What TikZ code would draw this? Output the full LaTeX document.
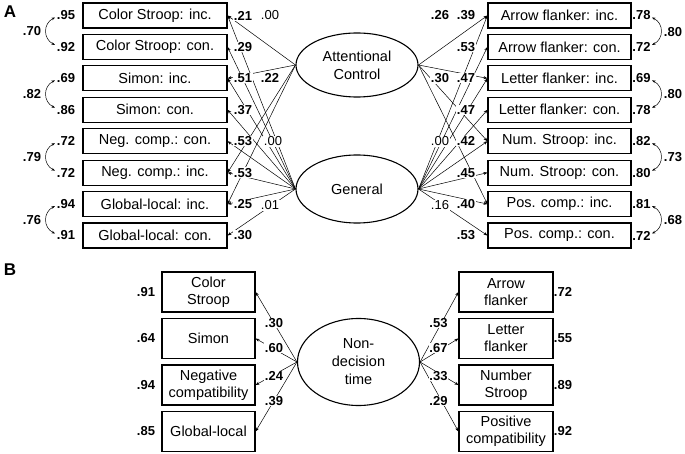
\documentclass[tikz,border=0pt]{standalone}
\usepackage{fontspec}
\setmainfont{Liberation Sans}
\usetikzlibrary{arrows.meta,shapes.geometric}
\begin{document}
\begin{tikzpicture}[x=1pt,y=-1pt,
  box/.style={draw,line width=1.1pt,minimum height=25pt,inner sep=0pt,font=\fontsize{14.5}{18}\selectfont},
  lbox/.style={box,minimum width=144pt},
  rbox/.style={box,minimum width=143pt},
  bbox/.style={draw,line width=1.1pt,minimum height=40pt,minimum width=93pt,align=center,inner sep=0pt,font=\fontsize{14.5}{17}\selectfont},
  factor/.style={draw,ellipse,line width=1.1pt,inner sep=0pt,align=center,font=\fontsize{14.5}{18}\selectfont},
  load/.style={line width=0.5pt,-{Stealth[length=4pt,width=3pt]}},
  cov/.style={line width=0.5pt,{Stealth[length=3.5pt,width=2.6pt]}-{Stealth[length=3.5pt,width=2.6pt]}},
  num/.style={fill=white,inner sep=0.6pt,font=\fontsize{13}{15}\selectfont},
  bnum/.style={num,font=\fontsize{13}{15}\selectfont\bfseries},
  enum/.style={inner sep=0pt,font=\fontsize{13}{15}\selectfont\bfseries},
  panel/.style={inner sep=0pt,font=\fontsize{17}{20}\selectfont\bfseries}]
\useasboundingbox (0,0) rectangle (685,454);

\node[panel] (pA) at (10,12) {A};
\node[panel] (pB) at (10,270) {B};

% factors panel A
\node[factor,minimum width=122pt,minimum height=64pt] (ac) at (357,65) {Attentional\\Control};
\node[factor,minimum width=122pt,minimum height=68pt] (gen) at (357,189) {General};

% left boxes
\foreach \i/\t/\e in {1/Color Stroop: inc./.95,2/Color Stroop: con./.92,3/Simon: inc./.69,4/Simon: con./.86,5/Neg. comp.: con./.72,6/Neg. comp.: inc./.72,7/Global-local: inc./.94,8/Global-local: con./.91}{
  \pgfmathsetmacro\yy{15.5+31.43*(\i-1)}
  \node[lbox] (L\i) at (155,\yy) {\t};
  \node[enum] (Le\i) at (66,\yy) {\e};
  \coordinate (Lc\i) at (55,\yy);
}
% right boxes
\foreach \i/\t/\e in {1/Arrow flanker: inc./.78,2/Arrow flanker: con./.72,3/Letter flanker: inc./.69,4/Letter flanker: con./.78,5/Num. Stroop: inc./.82,6/Num. Stroop: con./.80,7/Pos. comp.: inc./.81,8/Pos. comp.: con./.72}{
  \pgfmathsetmacro\yy{15.5+31.43*(\i-1)}
  \node[rbox] (R\i) at (559.5,\yy) {\t};
  \node[enum] (Re\i) at (641.5,\yy) {\e};
  \coordinate (Rc\i) at (652,\yy);
}

% loadings panel A
\foreach \i in {1,...,8}{
  \draw[load] (gen.west) -- (L\i.east);
  \draw[load] (gen.east) -- (R\i.east -| R\i.west);
}
\foreach \i in {1,3,6,7}{
  \draw[load] (ac.west) -- (L\i.east);
}
\foreach \i in {1,3,5,7}{
  \draw[load] (ac.east) -- (R\i.west);
}

% covariances panel A
\foreach \a/\b/\v/\yy in {1/2/.70/31,3/4/.82/94,5/6/.79/157,7/8/.76/220}{
  \draw[cov] ([yshift=-2pt]Lc\a) .. controls +(-12,6) and +(-12,-6) .. ([yshift=2pt]Lc\b);
  \node[enum] (Lv\a) at (32,\yy) {\v};
}
\foreach \a/\b/\v/\yy in {1/2/.80/32,3/4/.80/94,5/6/.73/157,7/8/.68/220}{
  \draw[cov] ([yshift=-2pt]Rc\a) .. controls +(12,6) and +(12,-6) .. ([yshift=2pt]Rc\b);
  \node[enum] (Rv\a) at (673,\yy) {\v};
}

% loading labels panel A
\foreach \i/\v in {1/.21,2/.29,3/.51,4/.37,5/.53,6/.53,7/.25,8/.30}{
  \pgfmathsetmacro\yy{15.5+31.43*(\i-1)}
  \node[bnum] (Ll\i) at (243,\yy) {\v};
}
\foreach \i/\v in {1/.39,2/.53,3/.47,4/.47,5/.42,6/.45,7/.40,8/.53}{
  \pgfmathsetmacro\yy{15.5+31.43*(\i-1)}
  \node[bnum] (Rl\i) at (466,\yy) {\v};
}
\node[num] (la1) at (270,15.5) {.00};
\node[bnum] (la3) at (270,78.4) {.22};
\node[num] (la5) at (273,141.5) {.00};
\node[num] (la7) at (270,205.5) {.01};
\node[bnum] (ra1) at (440,15.5) {.26};
\node[bnum] (ra3) at (440,78.4) {.30};
\node[num] (ra5) at (440,141.5) {.00};
\node[num] (ra7) at (440,205.5) {.16};

% panel B
\node[factor,minimum width=122pt,minimum height=87pt] (ndt) at (358.5,362) {Non-\\decision\\time};
\foreach \i/\t/\e in {1/{Color\\Stroop}/.91,2/Simon/.64,3/{Negative\\compatibility}/.94,4/Global-local/.85}{
  \pgfmathsetmacro\yy{292+46.5*(\i-1)}
  \node[bbox] (BL\i) at (208.5,\yy) {\t};
  \node[enum] (BLe\i) at (146,\yy) {\e};
  \draw[load] (ndt.west) -- (BL\i.east);
}
\foreach \i/\t/\e in {1/{Arrow\\flanker}/.72,2/{Letter\\flanker}/.55,3/{Number\\Stroop}/.89,4/{Positive\\compatibility}/.92}{
  \pgfmathsetmacro\yy{292+46.5*(\i-1)}
  \node[bbox,minimum width=94pt] (BR\i) at (506,\yy) {\t};
  \node[enum] (BRe\i) at (563,\yy) {\e};
  \draw[load] (ndt.east) -- (BR\i.west);
}
\foreach \i/\v/\yy in {1/.30/323,2/.60/348,3/.24/376,4/.39/401}{
  \node[bnum] (BLl\i) at (274,\yy) {\v};
}
\foreach \i/\v/\yy in {1/.53/323,2/.67/348,3/.33/376,4/.29/401}{
  \node[bnum] (BRl\i) at (438.5,\yy) {\v};
}
\end{tikzpicture}
\end{document}
